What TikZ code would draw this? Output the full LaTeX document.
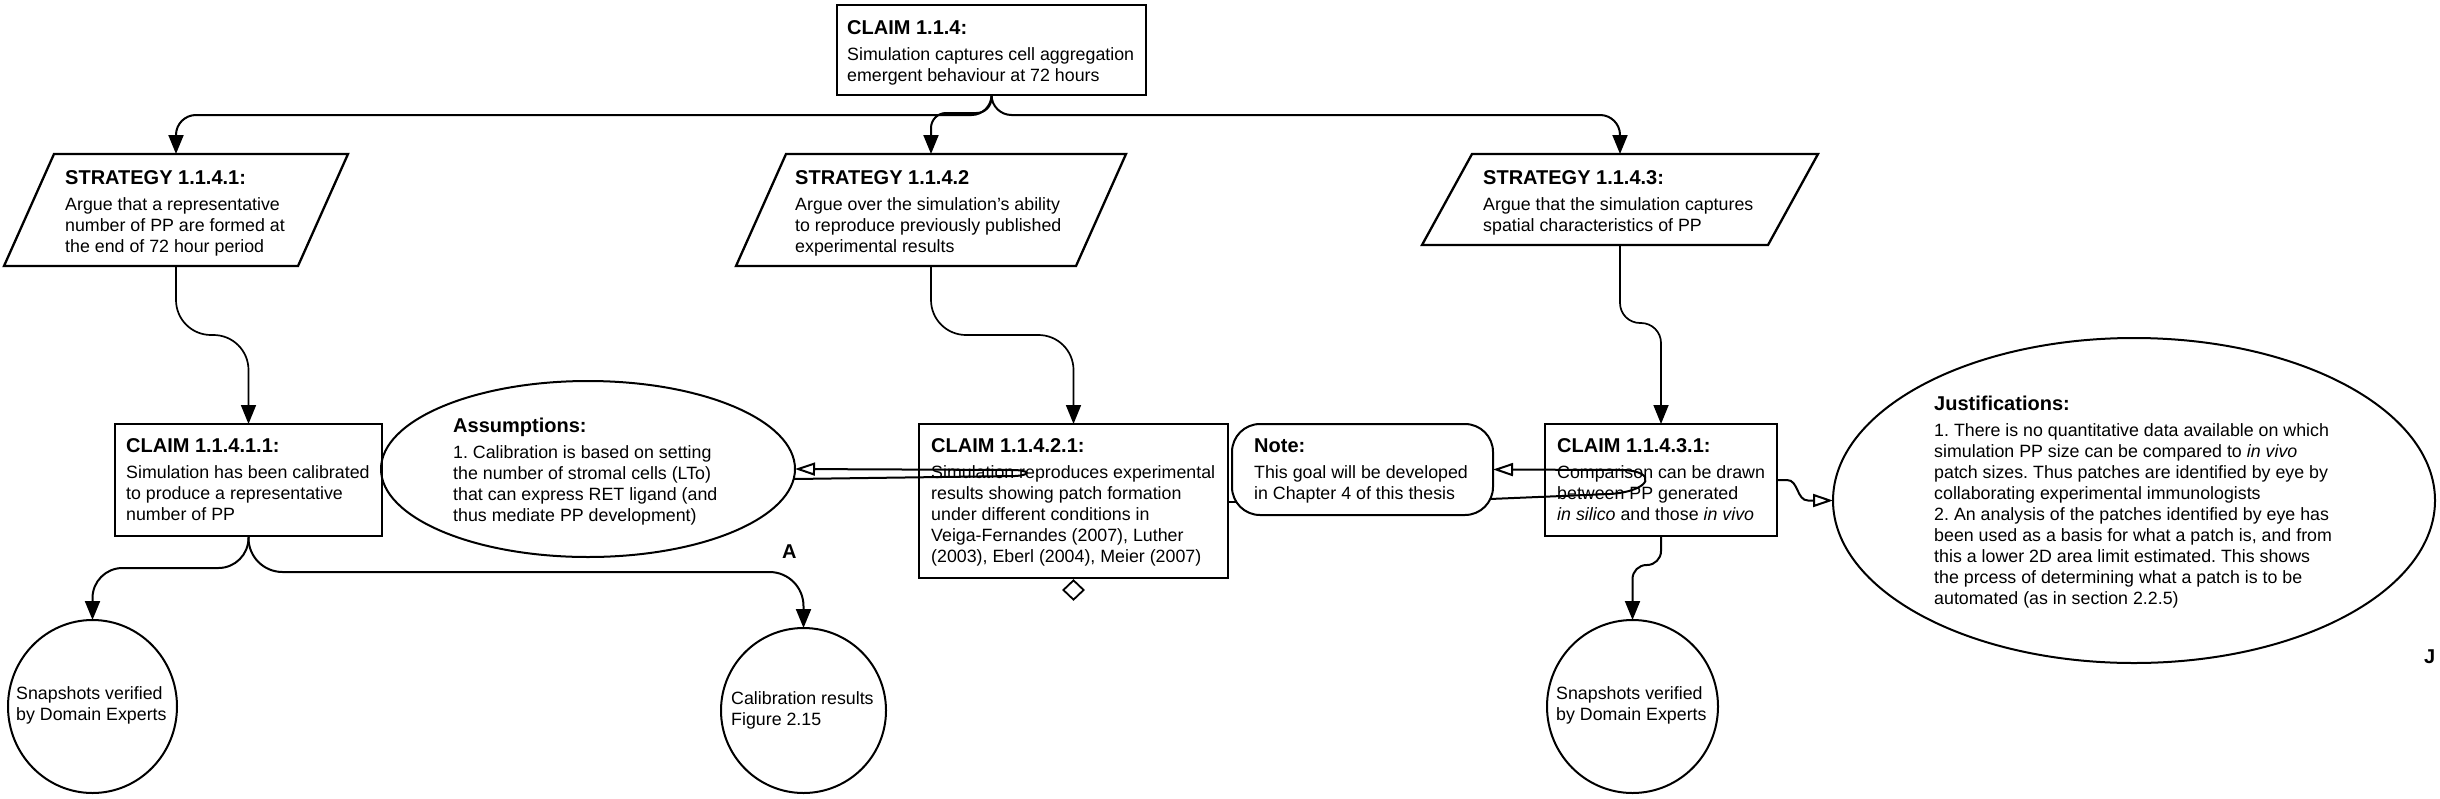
\documentclass[tikz,border=0pt]{standalone}
\usepackage{fontspec}
\setmainfont{Liberation Sans}
\usetikzlibrary{arrows.meta,shapes.geometric,calc}
\frenchspacing
\newcommand\gsnT[1]{{\fontsize{20}{21}\selectfont\bfseries #1}}
\newcommand\gsnB[1]{\begin{tabular}[t]{@{}l@{}}#1\end{tabular}}
\begin{document}
\begin{tikzpicture}[x=1pt,y=-1pt,
  frame/.style={rectangle, inner sep=0pt, outer sep=0pt},
  box/.style={frame, draw, line width=2.3pt},
  pline/.style={line width=2.3pt, line join=miter},
  ell/.style={ellipse, draw, line width=2pt, inner sep=0pt, outer sep=0pt},
  notebox/.style={frame, draw, line width=2pt, rounded corners=28pt},
  txt/.style={anchor=base west, inner sep=0pt, font=\fontsize{17.8}{21}\selectfont},
  lbl/.style={anchor=base west, inner sep=0pt, font=\fontsize{20}{21}\selectfont\bfseries},
  conn/.style={line width=2pt, -{Triangle[length=19pt,width=15pt]}},
  thinconn/.style={line width=1.7pt, -{Triangle[length=19pt,width=15pt]}},
  openconn/.style={line width=2pt, -{Triangle[open,length=20pt,width=13pt]}},
  plain/.style={line width=2pt}
]
\useasboundingbox[fill=white] (0,0) rectangle (2440,798);

% ---------- shapes ----------
\node[box, minimum width=309pt, minimum height=90pt] (c0) at (991.5,50) {};
\node[frame, minimum width=344pt, minimum height=112pt] (s1) at (176,210) {};
\node[frame, minimum width=390pt, minimum height=112pt] (s2) at (931,210) {};
\node[frame, minimum width=396pt, minimum height=91pt] (s3) at (1620,199.5) {};
\foreach \s in {s1,s2,s3}{
  \draw[pline] ($(\s.north west)+(50,0)$) -- (\s.north east) -- ($(\s.south east)-(50,0)$) -- (\s.south west) -- cycle;
}
\node[box, minimum width=267pt, minimum height=112pt] (c1) at (248.5,480) {};
\node[box, minimum width=309pt, minimum height=154pt] (c2) at (1073.5,501) {};
\node[box, minimum width=232pt, minimum height=112pt] (c3) at (1661,480) {};
\node[notebox, minimum width=261pt, minimum height=91pt] (note) at (1362.5,469.5) {};
\node[ell, minimum width=414pt, minimum height=176pt] (assum) at (588,469) {};
\node[ell, minimum width=602pt, minimum height=325pt] (just) at (2134,500.5) {};
\node[ell, minimum width=169pt, minimum height=173pt] (snap1) at (92.5,706.5) {};
\node[ell, minimum width=165pt, minimum height=165pt] (calib) at (803.5,710.5) {};
\node[ell, minimum width=171pt, minimum height=173pt] (snap3) at (1632.5,706.5) {};
\node[diamond, draw, line width=1.8pt, inner sep=0pt, minimum width=21pt, minimum height=20pt] (dia) at (1073.5,590) {};

% ---------- texts ----------
\node[txt] (t0) at (847,34) {\gsnB{\gsnT{CLAIM 1.1.4:}\\[5pt]Simulation captures cell aggregation\\emergent behaviour at 72 hours}};
\node[txt] (ts1) at (65,184) {\gsnB{\gsnT{STRATEGY 1.1.4.1:}\\[5pt]Argue that a representative\\number of PP are formed at\\the end of 72 hour period}};
\node[txt] (ts2) at (795,184) {\gsnB{\gsnT{STRATEGY 1.1.4.2}\\[5pt]Argue over the simulation's ability\\to reproduce previously published\\experimental results}};
\node[txt] (ts3) at (1483,184) {\gsnB{\gsnT{STRATEGY 1.1.4.3:}\\[5pt]Argue that the simulation captures\\spatial characteristics of PP}};
\node[txt] (tc1) at (126,452) {\gsnB{\gsnT{CLAIM 1.1.4.1.1:}\\[5pt]Simulation has been calibrated\\to produce a representative\\number of PP}};
\node[txt] (ta) at (453,432) {\gsnB{\gsnT{Assumptions:}\\[5pt]1. Calibration is based on setting\\the number of stromal cells (LTo)\\that can express RET ligand (and\\thus mediate PP development)}};
\node[txt] (tc2) at (931,452) {\gsnB{\gsnT{CLAIM 1.1.4.2.1:}\\[5pt]Simulation reproduces experimental\\results showing patch formation\\under different conditions in\\Veiga-Fernandes (2007), Luther\\(2003), Eberl (2004), Meier (2007)}};
\node[txt] (tn) at (1254,452) {\gsnB{\gsnT{Note:}\\[5pt]This goal will be developed\\in Chapter 4 of this thesis}};
\node[txt] (tc3) at (1557,452) {\gsnB{\gsnT{CLAIM 1.1.4.3.1:}\\[5pt]Comparison can be drawn\\between PP generated\\\textit{in silico} and those \textit{in vivo}}};
\node[txt] (tj) at (1934,410) {\gsnB{\gsnT{Justifications:}\\[5pt]1. There is no quantitative data available on which\\simulation PP size can be compared to \textit{in vivo}\\patch sizes. Thus patches are identified by eye by\\collaborating experimental immunologists\\2. An analysis of the patches identified by eye has\\been used as a basis for what a patch is, and from\\this a lower 2D area limit estimated. This shows\\the prcess of determining what a patch is to be\\automated (as in section 2.2.5)}};
\node[txt] (tsn1) at (16,699) {\gsnB{Snapshots verified\\by Domain Experts}};
\node[txt] (tcal) at (731,704) {\gsnB{Calibration results\\Figure 2.15}};
\node[txt] (tsn3) at (1556,699) {\gsnB{Snapshots verified\\by Domain Experts}};
\node[lbl] (la) at (782,558) {A};
\node[lbl] (lj) at (2424,663) {J};

% ---------- routing levels ----------
\coordinate (lv0) at (0,115);
\coordinate (lv0b) at (0,113);
\coordinate (lv1) at (0,335);
\coordinate (lv3) at (0,323);
\coordinate (lvb1) at (0,568);
\coordinate (lvb2) at (0,572);
\coordinate (lvb3) at (0,565);

% ---------- connectors ----------
\draw[conn, rounded corners=20pt] (c0.south) -- (c0.south |- lv0) -- (s1.north |- lv0) -- (s1.north);
\draw[conn, rounded corners=15pt] (c0.south) -- (c0.south |- lv0b) -- (s2.north |- lv0b) -- (s2.north);
\draw[conn, rounded corners=20pt] (c0.south) -- (c0.south |- lv0) -- (s3.north |- lv0) -- (s3.north);

\draw[thinconn, rounded corners=35pt] (s1.south) -- (s1.south |- lv1) -- (c1.north |- lv1) -- (c1.north);
\draw[thinconn, rounded corners=35pt] (s2.south) -- (s2.south |- lv1) -- (c2.north |- lv1) -- (c2.north);
\draw[thinconn, rounded corners=20pt] (s3.south) -- (s3.south |- lv3) -- (c3.north |- lv3) -- (c3.north);

\draw[conn, rounded corners=30pt] (c1.south) -- (c1.south |- lvb1) -- (snap1.north |- lvb1) -- (snap1.north);
\draw[conn, rounded corners=34pt] (c1.south) -- (c1.south |- lvb2) -- (calib.north |- lvb2) -- (calib.north);
\draw[conn, rounded corners=14pt] (c3.south) -- (c3.south |- lvb3) -- (snap3.north |- lvb3) -- (snap3.north);

% assumption link (loops back inside the claim box)
\coordinate (aS) at ($(assum.east)+(-1,10)$);
\coordinate (aT1) at ($(c2.west)+(96,-25)$);
\coordinate (aT2) at ($(c2.west)+(93,-31)$);
\draw[openconn] (aS) -- (aT1) .. controls +(17,-1) and +(18,0) .. (aT2) -- (assum.east);

% note link
\coordinate (nS) at (1490,499);
\coordinate (nT1) at ($(c3.west)+(65,14)$);
\coordinate (nT2) at ($(c3.west)+(77,-10)$);
\draw[openconn] (nS) -- (nT1) .. controls +(42,-3) and +(36,1) .. (nT2) -- (note.east);

% short link between claim 1.1.4.2.1 and note
\coordinate (sy) at (0,502);
\draw[plain] (c2.east |- sy) -- ($(note.west |- sy)+(4,0)$);

% justification link
\coordinate (jy) at (0,480);
\draw[openconn] (c3.east |- jy) -- ++(10,0) to[out=0,in=180] ($(just.west)+(-25,0)$) -- (just.west);
\end{tikzpicture}
\end{document}
